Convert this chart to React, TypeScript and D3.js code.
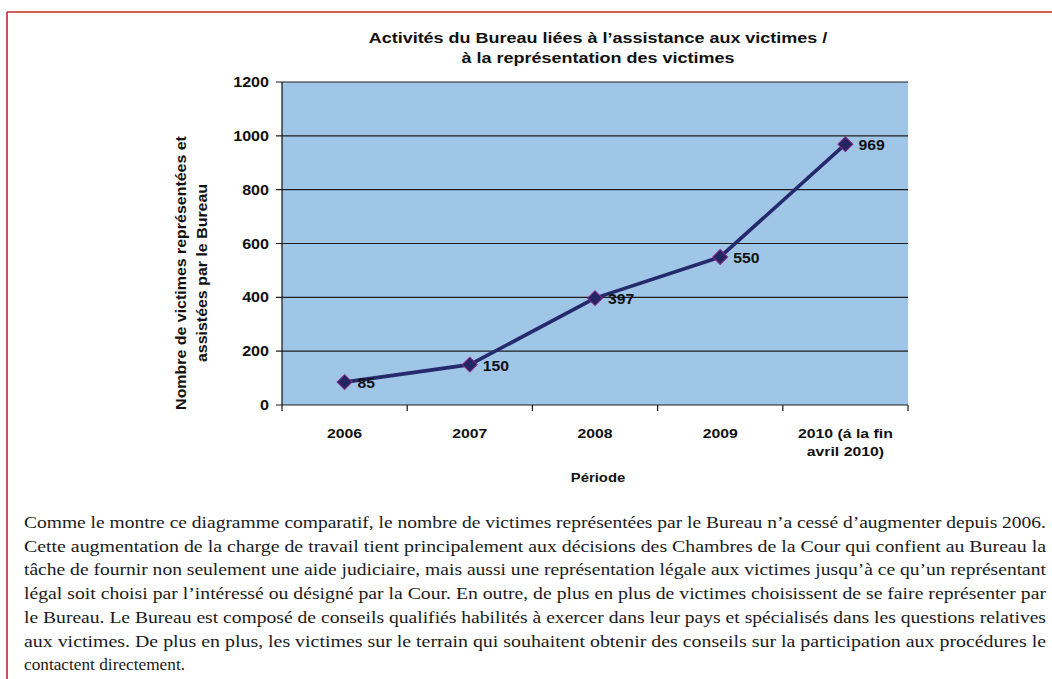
import React from "react";
import * as d3 from "d3";

// Chart content
const titleLines = [
  "Activités du Bureau liées à l’assistance aux victimes /",
  "à la représentation des victimes",
];
const categories = ["2006", "2007", "2008", "2009", "2010"];
const categoryLabels = [["2006"], ["2007"], ["2008"], ["2009"], ["2010 (á la fin", "avril 2010)"]];
const victims = [85, 150, 397, 550, 969];
const yTicks = [0, 200, 400, 600, 800, 1000, 1200];
const yTitleLines = ["Nombre de victimes représentées et", "assistées par le Bureau"];
const xTitle = "Période";

// Body text below the chart (line-broken as typeset, last line not justified)
const paragraphLines = [
  "Comme le montre ce diagramme comparatif, le nombre de victimes représentées par le Bureau n’a cessé d’augmenter depuis 2006.",
  "Cette augmentation de la charge de travail tient principalement aux décisions des Chambres de la Cour qui confient au Bureau la",
  "tâche de fournir non seulement une aide judiciaire, mais aussi une représentation légale aux victimes jusqu’à ce qu’un représentant",
  "légal soit choisi par l’intéressé ou désigné par la Cour. En outre, de plus en plus de victimes choisissent de se faire représenter par",
  "le Bureau. Le Bureau est composé de conseils qualifiés habilités à exercer dans leur pays et spécialisés dans les questions relatives",
  "aux victimes. De plus en plus, les victimes sur le terrain qui souhaitent obtenir des conseils sur la participation aux procédures le",
  "contactent directement.",
];

const W = 1052;
const H = 679;
const plot = { left: 282, right: 908, top: 82, bottom: 405 };
const SANS = "'Liberation Sans', Arial, sans-serif";
const SERIF = "'Liberation Serif', 'Times New Roman', serif";

// Bold chart label, widened horizontally like the embedded chart's type
function Label(props: {
  x: number;
  y: number;
  sx: number;
  size: number;
  anchor?: "start" | "middle" | "end";
  rotate?: number;
  dy?: string;
  children: React.ReactNode;
}) {
  const { x, y, sx, size, anchor = "start", rotate = 0, dy, children } = props;
  return (
    <g transform={`translate(${x},${y}) rotate(${rotate}) scale(${sx},1)`}>
      <text
        x={0}
        y={0}
        dy={dy}
        textAnchor={anchor}
        fontFamily={SANS}
        fontWeight="bold"
        fontSize={size}
        fill="#111"
      >
        {children}
      </text>
    </g>
  );
}

export default function App() {
  const x = d3.scaleBand<string>().domain(categories).range([plot.left, plot.right]).padding(0);
  const y = d3.scaleLinear().domain([0, 1200]).range([plot.bottom, plot.top]);
  const cx = (c: string) => (x(c) as number) + x.bandwidth() / 2;

  const pts = categories.map((c, i) => [cx(c), y(victims[i])] as [number, number]);
  const linePath = d3.line()(pts) as string;
  const diamond = d3.symbol().type(d3.symbolSquare).size(112)() as string;

  const boundaries = [plot.left, ...categories.map((c) => (x(c) as number) + x.bandwidth())];
  const centerX = 598;
  const yTitleCenter = 273;

  const textLeft = 24;
  const textRight = 1046;
  const lineStep = 23.7;
  const firstBaseline = 528;

  return (
    <svg
      width={W}
      height={H}
      viewBox={`0 0 ${W} ${H}`}
      style={{ position: "absolute", left: 0, top: 0, background: "#fff" }}
    >
      {/* page frame */}
      <line x1={7} y1={12} x2={W} y2={12} stroke="#c1272d" strokeWidth={1.6} />
      <line x1={7} y1={12} x2={7} y2={H} stroke="#c1272d" strokeWidth={1.6} />

      {/* title */}
      {titleLines.map((t, i) => (
        <Label key={i} x={centerX} y={43 + i * 19.5} sx={1.2} size={15} anchor="middle">
          {t}
        </Label>
      ))}

      {/* plot area */}
      <rect
        x={plot.left}
        y={plot.top}
        width={plot.right - plot.left}
        height={plot.bottom - plot.top}
        fill="#9fc5e7"
      />
      {yTicks.map((t) => (
        <g key={t}>
          <line x1={plot.left - 6} x2={plot.right} y1={y(t)} y2={y(t)} stroke="#1e1e1e" strokeWidth={1.2} />
          <Label x={plot.left - 13} y={y(t)} dy="0.36em" sx={1.15} size={14} anchor="end">
            {t}
          </Label>
        </g>
      ))}
      <line x1={plot.left} x2={plot.left} y1={plot.top} y2={plot.bottom} stroke="#111" strokeWidth={1.2} />

      {/* x axis */}
      {boundaries.map((bx, i) => (
        <line key={i} x1={bx} x2={bx} y1={plot.bottom} y2={plot.bottom + 6} stroke="#111" strokeWidth={1.2} />
      ))}
      {categories.map((c, i) =>
        categoryLabels[i].map((l, j) => (
          <Label key={c + j} x={cx(c)} y={438 + j * 18} sx={1.17} size={13.5} anchor="middle">
            {l}
          </Label>
        ))
      )}
      <Label x={centerX} y={482} sx={1.1} size={13.5} anchor="middle">
        {xTitle}
      </Label>

      {/* y axis title */}
      {yTitleLines.map((t, i) => (
        <Label key={i} x={186 + i * 20.5} y={yTitleCenter} rotate={-90} sx={1.1} size={14.5} anchor="middle">
          {t}
        </Label>
      ))}

      {/* series */}
      <path d={linePath} fill="none" stroke="#252a6d" strokeWidth={3.6} strokeLinejoin="round" />
      {pts.map(([px, py], i) => (
        <g key={i}>
          <path
            d={diamond}
            transform={`translate(${px},${py}) rotate(45)`}
            fill="#232660"
            stroke="#8e2a8c"
            strokeWidth={1}
          />
          <Label x={px + 13} y={py} dy="0.42em" sx={1.05} size={15}>
            {victims[i]}
          </Label>
        </g>
      ))}

      {/* paragraph */}
      {paragraphLines.map((t, i) => {
        const last = i === paragraphLines.length - 1;
        return (
          <text
            key={i}
            x={textLeft}
            y={firstBaseline + i * lineStep}
            fontFamily={SERIF}
            fontSize={16.5}
            fill="#1a1a1a"
            textLength={last ? 161 : textRight - textLeft}
            lengthAdjust="spacingAndGlyphs"
          >
            {t}
          </text>
        );
      })}
    </svg>
  );
}
